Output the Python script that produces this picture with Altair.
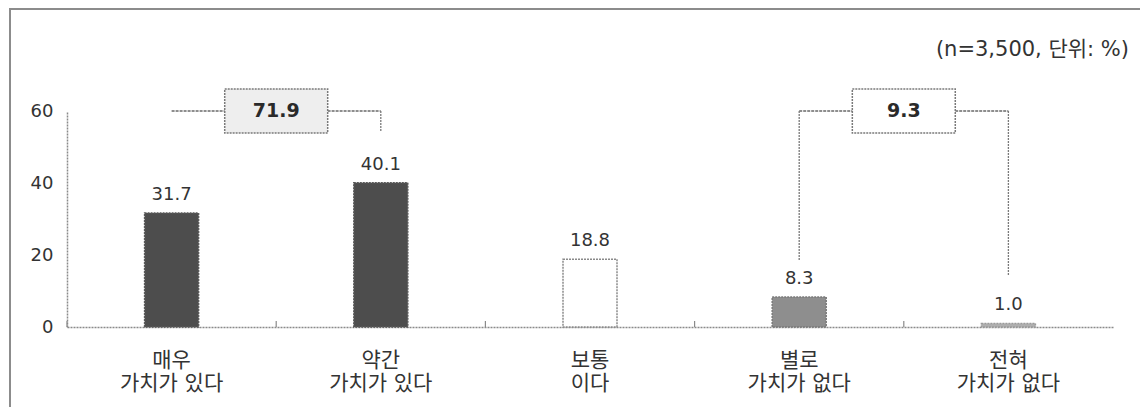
import altair as alt
import pandas as pd

# ---- data ----
categories = ["매우\n가치가 있다", "약간\n가치가 있다", "보통\n이다", "별로\n가치가 없다", "전혀\n가치가 없다"]
values = [31.7, 40.1, 18.8, 8.3, 1.0]
bar_fills = ["#4d4d4d", "#4d4d4d", "#ffffff", "#8e8e8e", "#b0b0b0"]
bar_strokes = ["#5a5a5a", "#5a5a5a", "#8a8a8a", "#7a7a7a", "#9a9a9a"]

sum_labels = ["71.9", "9.3"]
sum_from = [categories[0], categories[3]]
sum_to = [categories[1], categories[4]]
sum_level = [60, 60]
sum_from_end = [60, 18.6]
sum_to_end = [54.2, 14.4]
sum_box_fill = ["#eeeeee", "#ffffff"]
y_ticks = [0, 20, 40, 60]
note = "(n=3,500, 단위: %)"

W, H = 1046, 216
FONT = "DejaVu Sans, Noto Sans CJK KR"
TXT = "#333333"

bars_df = pd.DataFrame({"cat": categories, "value": values,
                        "fill": bar_fills, "stroke": bar_strokes})
sums_df = pd.DataFrame({"label": sum_labels, "from": sum_from, "to": sum_to,
                        "level": sum_level, "from_end": sum_from_end,
                        "to_end": sum_to_end, "boxfill": sum_box_fill})
note_df = pd.DataFrame({"note": [note]})

xscale = alt.Scale(domain=categories, paddingInner=0, paddingOuter=0)
yscale = alt.Scale(domain=[0, 60], nice=False)

x_main = alt.X("cat:N", sort=categories, scale=xscale, title=None,
               axis=alt.Axis(title=None, labelAngle=0,
                             labelExpr="split(datum.label, '\\n')",
                             labelFont=FONT, labelFontSize=21, labelColor=TXT,
                             labelPadding=22, labelLineHeight=23,
                             ticks=False, tickSize=0,
                             domainColor="#8a8a8a", domainDash=[2, 1],
                             domainWidth=1.5))
y_main = alt.Y("value:Q", scale=yscale, title=None,
               axis=alt.Axis(title=None, values=y_ticks, grid=False,
                             labelFont=FONT, labelFontSize=18, labelColor=TXT,
                             labelPadding=14, ticks=False, tickSize=0,
                             domainColor="#8a8a8a", domainDash=[2, 1],
                             domainWidth=1.5))


def xcat(field, **kw):
    return alt.X(field, sort=categories, scale=xscale, title=None, **kw)


def yval(field):
    return alt.Y(field, scale=yscale, title=None)


bars = alt.Chart(bars_df).mark_bar(size=54, strokeWidth=1.5, strokeDash=[2, 1]).encode(
    x=x_main, y=y_main,
    fill=alt.Fill("fill:N", scale=None),
    stroke=alt.Stroke("stroke:N", scale=None))

frame = alt.Chart(note_df).mark_rect(fillOpacity=0, stroke="#8c8c8c", strokeWidth=2).encode(
    x=alt.value(-57), x2=alt.value(W + 80), y=alt.value(-102), y2=alt.value(H + 150))

bar_labels = alt.Chart(bars_df).mark_text(
    dy=-9, baseline="bottom", font=FONT, fontSize=18, color=TXT).encode(
    x=xcat("cat:N"), y=yval("value:Q"),
    text=alt.Text("value:Q", format=".1f"))

bound_ticks = alt.Chart(bars_df).mark_rule(color="#8a8a8a", strokeWidth=1.2).encode(
    x=xcat("cat:N", bandPosition=0),
    y=alt.value(H), y2=alt.value(H - 6))

hrules = alt.Chart(sums_df).mark_rule(color="#6a6a6a", strokeWidth=1.3, strokeDash=[3, 1]).encode(
    x=xcat("from:N"), x2="to:N", y=yval("level:Q"))

drops_from = alt.Chart(sums_df).mark_rule(color="#7a7a7a", strokeWidth=1.3, strokeDash=[2, 1]).encode(
    x=xcat("from:N"), y=yval("level:Q"), y2="from_end:Q")

drops_to = alt.Chart(sums_df).mark_rule(color="#7a7a7a", strokeWidth=1.3, strokeDash=[2, 1]).encode(
    x=xcat("to:N"), y=yval("level:Q"), y2="to_end:Q")

boxes = alt.Chart(sums_df).mark_point(
    shape="M-1.17,-0.5H1.17V0.5H-1.17Z", size=7744, filled=True, opacity=1,
    stroke="#7a7a7a", strokeWidth=1.5, strokeDash=[2, 1]).encode(
    x=xcat("from:N", bandPosition=1), y=yval("level:Q"),
    fill=alt.Fill("boxfill:N", scale=None))

box_text = alt.Chart(sums_df).mark_text(
    font=FONT, fontSize=19, fontWeight="bold", color="#2a2a2a", baseline="middle").encode(
    x=xcat("from:N", bandPosition=1), y=yval("level:Q"),
    text="label:N")

note_text = alt.Chart(note_df).mark_text(
    font=FONT, fontSize=21, color=TXT, align="right", baseline="middle").encode(
    x=alt.value(W + 16), y=alt.value(-61), text="note:N")

chart = alt.layer(bars, frame, bound_ticks, bar_labels, hrules, drops_from, drops_to,
                  boxes, box_text, note_text).properties(
    width=W, height=H,
    autosize=alt.AutoSizeParams(type="none"),
    padding={"left": 59, "top": 103, "right": 27, "bottom": 80},
).configure_view(strokeWidth=0)

chart.save("out.html", embed_options={"renderer": "svg", "actions": False})
